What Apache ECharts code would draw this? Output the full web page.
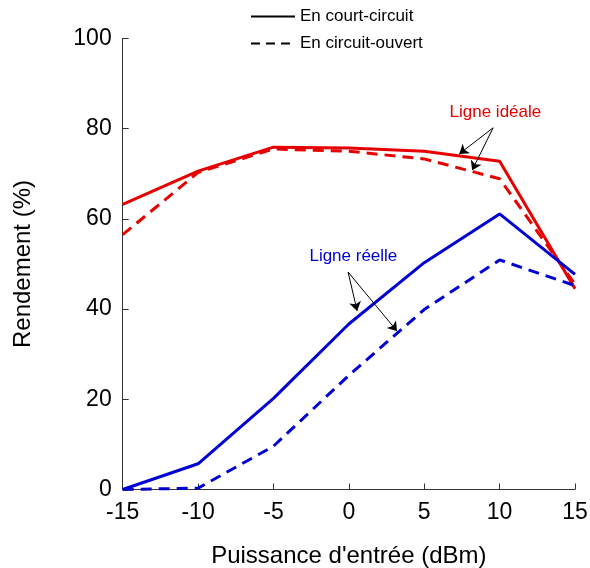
<!DOCTYPE html>
<html>
<head>
<meta charset="utf-8">
<script src="https://cdn.jsdelivr.net/npm/echarts@6/dist/echarts.min.js"></script>
<style>
html,body{margin:0;padding:0;background:#fff;}
#c{width:590px;height:568px;}
</style>
</head>
<body>
<div id="c"></div>
<script>
// Data
const xValues = [-15, -10, -5, 0, 5, 10, 15];
const idealShort = [63.2, 70.6, 75.9, 75.7, 75.0, 72.8, 44.5];
const idealOpen  = [56.5, 70.3, 75.5, 75.0, 73.3, 68.9, 45.5];
const realShort  = [0, 5.7, 20.2, 36.7, 50.3, 61.1, 47.7];
const realOpen   = [0, 0.3, 9.6, 25.3, 39.9, 50.9, 45.2];
const legendNames = ['En court-circuit', 'En circuit-ouvert'];
const idealLabel = 'Ligne idéale';
const realLabel = 'Ligne réelle';
// arrow annotations in data coordinates: [from, to]
const idealArrows = [[[9.57, 80.2], [7.32, 74.4]], [[9.57, 80.2], [8.18, 70.8]]];
const realArrows  = [[[-0.05, 48.2], [0.55, 39.6]], [[-0.05, 48.2], [3.2, 35.1]]];
const idealLabelPos = [9.72, 83.7];
const realLabelPos = [0.3, 51.8];

const RED = '#e60000';
const BLUE = '#0000d2';
const FONT = '"Liberation Sans", Arial, sans-serif';

function pairs(xs, ys) { return xs.map((x, i) => [x, ys[i]]); }

const chart = echarts.init(document.getElementById('c'), null, {renderer: 'canvas'});

const arrowLines = idealArrows.concat(realArrows).map(a => [{coord: a[0]}, {coord: a[1]}]);

chart.setOption({
  animation: false,
  backgroundColor: '#fff',
  grid: {left: 122.7, right: 15, top: 38.5, bottom: 78.5, containLabel: false, outerBoundsMode: 'none'},
  legend: {
    data: legendNames,
    orient: 'vertical',
    left: 250,
    top: 8,
    padding: 0,
    itemWidth: 44,
    itemHeight: 14,
    itemGap: 10,
    itemStyle: {opacity: 0},
    textStyle: {fontFamily: FONT, fontSize: 17, color: '#000'},
    selectedMode: false
  },
  xAxis: {
    type: 'value', min: -15, max: 15, interval: 5,
    name: "Puissance d'entrée (dBm)", nameLocation: 'middle', nameGap: 55,
    nameTextStyle: {fontFamily: FONT, fontSize: 24, color: '#000'},
    axisLine: {show: true, onZero: false, lineStyle: {color: '#333', width: 1}},
    axisTick: {show: true, inside: true, length: 6, lineStyle: {color: '#333'}},
    axisLabel: {fontFamily: FONT, fontSize: 23, color: '#000', margin: 12},
    splitLine: {show: false}
  },
  yAxis: {
    type: 'value', min: 0, max: 100, interval: 20,
    name: 'Rendement (%)', nameLocation: 'middle', nameGap: 87, nameRotate: 90,
    nameTextStyle: {fontFamily: FONT, fontSize: 24, color: '#000'},
    axisLine: {show: true, onZero: false, lineStyle: {color: '#333', width: 1}},
    axisTick: {show: true, inside: true, length: 6, lineStyle: {color: '#333'}},
    axisLabel: {fontFamily: FONT, fontSize: 23, color: '#000', margin: 11},
    splitLine: {show: false}
  },
  series: [
    {name: legendNames[0], type: 'line', data: [], symbol: 'none',
     lineStyle: {color: '#000', width: 1.2, type: 'solid'}, itemStyle: {color: '#000', opacity: 0}},
    {name: legendNames[1], type: 'line', data: [], symbol: 'none',
     lineStyle: {color: '#000', width: 1.2, type: [9, 6]}, itemStyle: {color: '#000', opacity: 0}},
    {name: 'ideal-cc', type: 'line', data: pairs(xValues, idealShort), symbol: 'none',
     lineStyle: {color: RED, width: 3}, z: 3},
    {name: 'ideal-co', type: 'line', data: pairs(xValues, idealOpen), symbol: 'none',
     lineStyle: {color: RED, width: 3, type: [11, 7]}, z: 3},
    {name: 'real-cc', type: 'line', data: pairs(xValues, realShort), symbol: 'none',
     lineStyle: {color: BLUE, width: 3}, z: 3},
    {name: 'real-co', type: 'line', data: pairs(xValues, realOpen), symbol: 'none',
     lineStyle: {color: BLUE, width: 3, type: [11, 7]}, z: 3},
    {name: 'annot', type: 'line', data: [], symbol: 'none', z: 5,
     markLine: {
       silent: true, animation: false,
       symbol: ['none', 'arrow'], symbolSize: 9,
       lineStyle: {color: '#000', width: 1, type: 'solid'},
       label: {show: false},
       data: arrowLines
     },
     markPoint: {
       silent: true, animation: false,
       symbol: 'circle', symbolSize: 0,
       label: {show: true, position: 'inside', fontFamily: FONT, fontSize: 17},
       data: [
         {coord: idealLabelPos, value: idealLabel, label: {color: RED, formatter: idealLabel}},
         {coord: realLabelPos, value: realLabel, label: {color: BLUE, formatter: realLabel}}
       ]
     }
    }
  ]
});
</script>
</body>
</html>
